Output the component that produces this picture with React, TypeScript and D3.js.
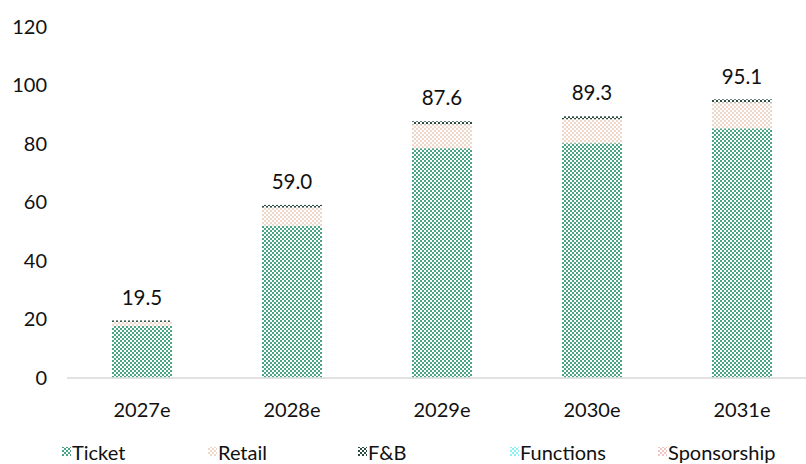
import React from "react";
import * as d3 from "d3";

const categories = ["2027e", "2028e", "2029e", "2030e", "2031e"];
const seriesNames = ["Ticket", "Retail", "F&B", "Functions", "Sponsorship"];
const ticket = [17.6, 51.9, 78.4, 80.1, 85.2];
const retail = [1.4, 6.2, 8.2, 8.2, 8.9];
const fnb = [0.5, 0.9, 1.0, 1.0, 1.0];
const functionsV = [0, 0, 0, 0, 0];
const sponsorship = [0, 0, 0, 0, 0];
const totals = [19.5, 59.0, 87.6, 89.3, 95.1];
const yTicks = [0, 20, 40, 60, 80, 100, 120];

const seriesValues = [ticket, retail, fnb, functionsV, sponsorship];
const seriesColors = ["#4aa585", "#efd8ca", "#2e4d42", "#8af0f2", "#f3c4c4"];

export default function App() {
  const W = 806, H = 464;
  const x = d3.scaleBand<string>().domain(categories).range([67, 817]).paddingInner(0.6).paddingOuter(0.3);
  const y = d3.scaleLinear().domain([0, 120]).range([377.5, 26.5]);
  const rows = categories.map((c, i) => {
    const r: any = { cat: c };
    seriesNames.forEach((s, k) => (r[s] = seriesValues[k][i]));
    return r;
  });
  const stack = d3.stack<any>().keys(seriesNames)(rows);
  const font = "Lato, 'Open Sans', sans-serif";
  const legendX = [62, 208, 358, 510, 658];
  return (
    <svg width={W} height={H} style={{ position: "absolute", left: 0, top: 0 }}>
      <defs>
        {seriesColors.map((c, k) => (
          <pattern key={k} id={`p${k}`} width={4} height={4} patternUnits="userSpaceOnUse">
            <rect width={4} height={4} fill="#fff" />
            <rect x={0} y={0} width={2} height={2} fill={c} />
            <rect x={2} y={2} width={2} height={2} fill={c} />
          </pattern>
        ))}
      </defs>
      <rect width={W} height={H} fill="#fff" />
      {yTicks.map((t) => (
        <text key={t} x={47} y={y(t)} dy="0.35em" textAnchor="end" fontFamily={font} fontSize={20} fill="#111">
          {t}
        </text>
      ))}
      {stack.map((layer, k) =>
        layer.map((d, i) =>
          d[1] - d[0] > 0 ? (
            <rect
              key={`${k}-${i}`}
              x={x(categories[i])}
              y={y(d[1])}
              width={x.bandwidth()}
              height={y(d[0]) - y(d[1])}
              fill={`url(#p${k})`}
            />
          ) : null
        )
      )}
      <line x1={67} x2={W} y1={378} y2={378} stroke="#d9d9d9" strokeWidth={1.5} />
      {categories.map((c, i) => (
        <text key={c} x={x(c)! + x.bandwidth() / 2} y={410} dy="0.35em" textAnchor="middle" fontFamily={font} fontSize={20} fill="#111">
          {c}
        </text>
      ))}
      {categories.map((c, i) => (
        <text key={"t" + c} x={x(c)! + x.bandwidth() / 2} y={y(totals[i]) - 23} dy="0.35em" textAnchor="middle" fontFamily={font} fontSize={20.5} fill="#111">
          {totals[i].toFixed(1)}
        </text>
      ))}
      {seriesNames.map((s, k) => (
        <g key={s}>
          <rect x={legendX[k]} y={447} width={9} height={9} fill={`url(#p${k})`} />
          <text x={legendX[k] + 10} y={453} dy="0.35em" fontFamily={font} fontSize={20} fill="#111">
            {s}
          </text>
        </g>
      ))}
    </svg>
  );
}
